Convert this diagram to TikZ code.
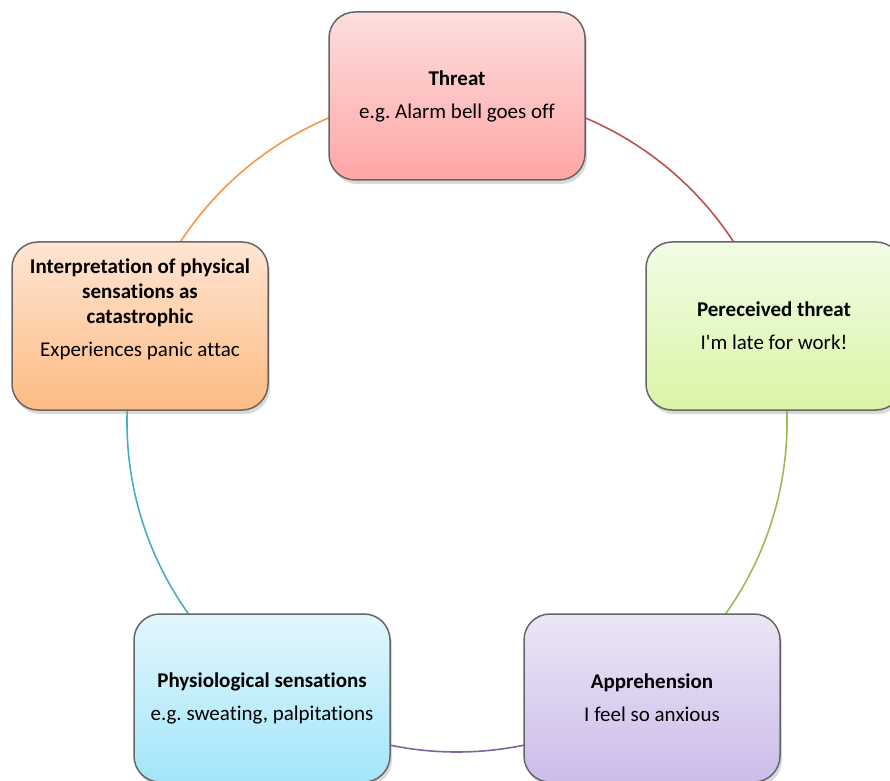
\documentclass[tikz,border=0pt]{standalone}
\usepackage{fontspec}
\setmainfont{Carlito}[Ligatures={NoCommon}]
\frenchspacing
\usetikzlibrary{shadows}
\definecolor{ringred}{HTML}{C0504D}
\definecolor{ringgreen}{HTML}{9BBB59}
\definecolor{ringpurple}{HTML}{8064A2}
\definecolor{ringblue}{HTML}{4BACC6}
\definecolor{ringorange}{HTML}{F79646}
\tikzset{
  stage/.style={draw=gray!80!black, line width=1.5pt, rounded corners=26pt,
    minimum width=256pt, minimum height=168pt, align=center,
    font=\fontsize{21}{25}\selectfont,
    drop shadow={opacity=0.3, shadow xshift=2pt, shadow yshift=-4pt}},
  ring/.style={line width=1.6pt}
}
\begin{document}
\begin{tikzpicture}[x=1pt,y=1pt]
  \useasboundingbox (0,0) rectangle (890,780);
  \coordinate (o) at (457,358);
  \def\rad{330}
  \draw[ring,ringred] ([shift={(90:\rad)}]o) arc[start angle=90, end angle=18, radius=\rad];
  \draw[ring,ringgreen] ([shift={(18:\rad)}]o) arc[start angle=18, end angle=-54, radius=\rad];
  \draw[ring,ringpurple] ([shift={(-54:\rad)}]o) arc[start angle=-54, end angle=-126, radius=\rad];
  \draw[ring,ringblue] ([shift={(-126:\rad)}]o) arc[start angle=-126, end angle=-198, radius=\rad];
  \draw[ring,ringorange] ([shift={(162:\rad)}]o) arc[start angle=162, end angle=90, radius=\rad];
  \node[stage, top color={rgb,255:red,253;green,222;blue,222}, bottom color={rgb,255:red,255;green,166;blue,166}] (threat) at (457,684)
    {\textbf{Threat}\\[8pt] e.g. Alarm bell goes off};
  \node[stage, top color={rgb,255:red,242;green,252;blue,230}, bottom color={rgb,255:red,217;green,245;blue,166}] (perceived) at (774,454)
    {\textbf{Pereceived threat}\\[8pt] I\textquotesingle m late for work!};
  \node[stage, top color={rgb,255:red,236;green,230;blue,245}, bottom color={rgb,255:red,204;green,188;blue,234}] (apprehension) at (652,82)
    {\textbf{Apprehension}\\[8pt] I feel so anxious};
  \node[stage, top color={rgb,255:red,226;green,247;blue,253}, bottom color={rgb,255:red,163;green,229;blue,250}] (physio) at (262,82)
    {\textbf{Physiological sensations}\\[8pt] e.g. sweating, palpitations};
  \node[stage, top color={rgb,255:red,255;green,229;blue,211}, bottom color={rgb,255:red,253;green,187;blue,130}] (interp) at (140,454)
    {\textbf{Interpretation of physical}\\ \textbf{sensations as}\\ \textbf{catastrophic}\\[8pt] Experiences panic attac\\[11pt] \mbox{}};
\end{tikzpicture}
\end{document}
